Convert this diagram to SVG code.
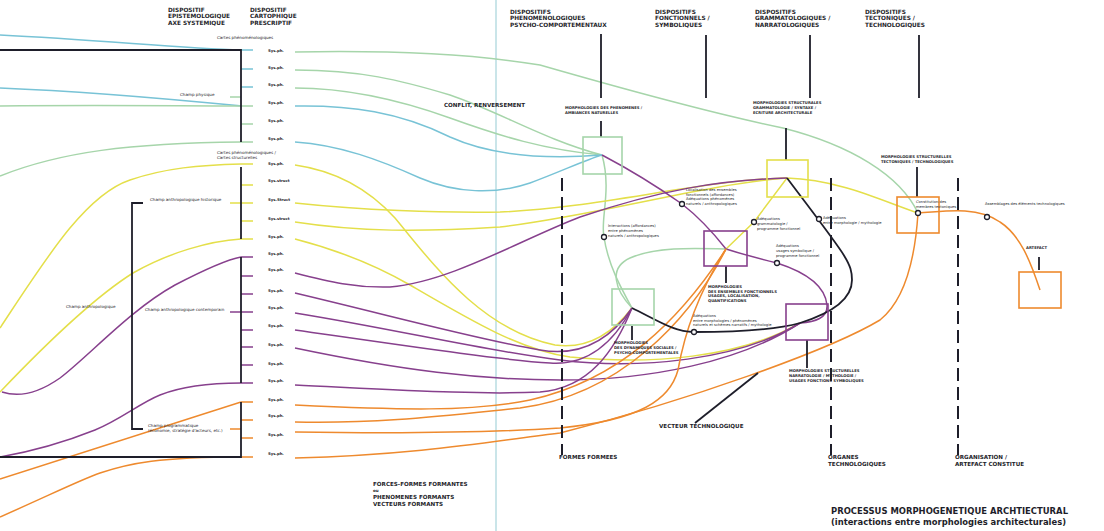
<svg xmlns="http://www.w3.org/2000/svg" width="1104" height="531" viewBox="0 0 1104 531">
<style>
.bk{fill:none;stroke:#1e1e2a;stroke-width:1.8}
.bl{fill:none;stroke:#78c3d6;stroke-width:1.5}
.gr{fill:none;stroke:#a6d5aa;stroke-width:1.5}
.ye{fill:none;stroke:#e4df4a;stroke-width:1.5}
.pu{fill:none;stroke:#87408d;stroke-width:1.5}
.or{fill:none;stroke:#ee8a2e;stroke-width:1.5}
.da{fill:none;stroke:#1e1e2a;stroke-width:2;stroke-dasharray:13 6}
.box{fill:none;stroke-width:1.6}
.dot{fill:#fff;stroke:#1e1e2a;stroke-width:1.3}
text{font-family:'DejaVu Sans','Liberation Sans',sans-serif;fill:#1e1e2a}
.h{font-size:5.8px;font-weight:bold}
.c{font-size:3.75px;font-weight:bold}
.s{font-size:3.7px}
.l{font-size:4.1px}
.r{font-size:3.8px;font-weight:bold}
.t{font-size:8.5px;font-weight:bold}
</style>
<rect width="1104" height="531" fill="#fff"/>
<line x1="496" y1="0" x2="496" y2="531" stroke="#b9dde2" stroke-width="1.5"/>

<g id="connectors">
  <!-- left side -->
  <path class="bl" d="M0,35 C100,40 180,48 241,50"/>
  <path class="bl" d="M0,88 C100,92 180,100 241,106"/>
  <path class="gr" d="M0,106 C100,105 180,106 241,106"/>
  <path class="gr" d="M0,176 C60,152 130,143 241,142"/>
  <path class="ye" d="M0,328 C45,260 85,195 130,180 C165,168 200,165 241,164"/>
  <path class="ye" d="M0,392 C40,350 90,300 133,273 C170,252 210,241 241,239"/>
  <path class="pu" d="M2,392 C20,398 40,392 60,378 C90,355 130,310 175,285 C200,272 225,260 241,257"/>
  <path class="pu" d="M0,457 C40,450 70,440 95,430 C120,420 140,403 160,395 C185,385 215,383 241,383"/>
  <path class="or" d="M0,479 L241,402"/>
  <path class="or" d="M0,517 C50,495 80,480 100,473 C130,463 160,457 241,457"/>

  <!-- ticks -->
  <path class="bl" d="M241,50H253M241,69H253M241,87H253"/>
  <path class="gr" d="M241,106H253M241,124H253M241,142H253M230,97H241"/>
  <path class="ye" d="M241,164H253M241,185H253M230,203H253M241,221H253M241,239H253"/>
  <path class="pu" d="M241,257H253M241,276H253M241,294H253M230,312H253M241,330H253M241,347H253M241,365H253M241,383H253"/>
  <path class="or" d="M241,402H253M241,420H253M230,429H241M241,438H253M241,457H253"/>

  <!-- black brackets -->
  <path class="bk" d="M0,50 H241 V142"/>
  <path class="bk" d="M241,167 V239"/>
  <path class="bk" d="M241,257 V383"/>
  <path class="bk" d="M241,402 V457 H0"/>
  <path class="bk" d="M143,203 H132 V429 H143"/>

  <!-- greens -->
  <path class="gr" d="M295,52 C400,50 480,55 540,65 C620,88 720,115 783,128 C850,145 900,175 918,213"/>
  <path class="gr" d="M295,70 C360,70 400,80 450,95 C500,112 545,140 602,155"/>
  <path class="gr" d="M295,88 C350,88 400,100 450,118 C500,136 545,150 602,155"/>
  <path class="gr" d="M602,155 C612,190 600,220 604,237 C608,265 622,290 632,308"/>
  <path class="gr" d="M632,308 C615,290 608,268 630,258 C655,247 690,248 726,249"/>
  <!-- blues -->
  <path class="bl" d="M295,106 C350,105 400,112 450,137 C490,155 540,160 602,155"/>
  <path class="bl" d="M295,142 C340,145 380,160 420,178 C455,193 495,195 530,183 C560,172 585,160 602,155"/>
  <!-- yellows -->
  <path class="ye" d="M295,165 C330,170 365,185 395,218 C430,260 480,330 555,345 C590,350 615,330 632,308"/>
  <path class="ye" d="M295,203 C360,210 440,213 500,212 C600,208 700,180 787,178 C840,180 880,200 918,213"/>
  <path class="ye" d="M295,222 C360,232 420,232 500,227 C600,215 700,185 787,178"/>
  <path class="ye" d="M295,239 C330,248 370,262 410,285 C470,320 520,350 570,357 C650,365 740,358 800,323"/>
  <path class="ye" d="M787,178 L754,222 L726,249"/>
  <!-- purples -->
  <path class="pu" d="M295,273 C330,282 355,288 390,287 C450,282 520,240 580,217 C660,190 720,180 787,178"/>
  <path class="pu" d="M602,155 C640,175 665,192 682,204 C700,218 715,235 726,249 C745,255 765,260 777,263 C805,272 825,285 827,305 C828,318 815,322 800,323"/>
  <path class="pu" d="M295,293 C400,318 480,340 540,350 C580,357 610,340 632,308"/>
  <path class="pu" d="M295,313 C400,330 480,350 560,360 C640,370 740,360 800,323"/>
  <path class="pu" d="M295,330 C400,345 500,360 550,363 C590,366 615,340 632,308"/>
  <path class="pu" d="M295,348 C400,370 480,380 560,380 C650,380 740,362 800,323"/>
  <path class="pu" d="M295,385 C400,390 480,395 540,392 C590,388 615,350 632,308"/>
  <!-- oranges -->
  <path class="or" d="M295,405 C400,410 470,412 530,400 C620,380 680,320 726,249"/>
  <path class="or" d="M295,422 C380,424 450,415 520,408 C620,395 690,320 726,249"/>
  <path class="or" d="M295,432 C420,434 500,432 560,428 C640,420 670,400 678,370 C685,330 700,290 726,249"/>
  <path class="or" d="M295,458 C420,455 500,440 560,433 C690,400 830,350 880,320 C905,300 915,260 918,213"/>
  <path class="or" d="M918,213 C935,212 950,210 965,211 C980,212 990,215 1000,222 C1020,235 1030,260 1040,290"/>
  <!-- black -->
  <path class="bk" d="M632,308 C660,322 675,332 694,332 C740,332 775,330 800,323 C835,312 852,298 852,280 C852,262 845,255 787,178"/>
  <path class="bk" d="M695,423 L758,373"/>
  <!-- header lines -->
  <path class="bk" d="M601,34V98M706,35V98M810,35V98M919,35V98"/>
  <path class="bk" d="M601,121V137M786,128V160M917,167V197M1039,257V270M726,266V283M632,326V340M807,340V368" stroke-width="1.5"/>
  <!-- dashed -->
  <path class="da" d="M562,178V455M831,178V455M958,178V455"/>
</g>

<g id="box-phenomenes"><rect class="box" stroke="#a6d5aa" x="583" y="137" width="39" height="37"/></g>
<g id="box-dynamiques"><rect class="box" stroke="#a6d5aa" x="612" y="289" width="42" height="36"/></g>
<g id="box-grammatologie"><rect class="box" stroke="#e4df4a" x="767" y="160" width="41" height="37"/></g>
<g id="box-fonctionnels"><rect class="box" stroke="#87408d" x="704" y="231" width="43" height="35"/></g>
<g id="box-narratologie"><rect class="box" stroke="#87408d" x="786" y="304" width="42" height="36"/></g>
<g id="box-tectoniques"><rect class="box" stroke="#ee8a2e" x="897" y="197" width="42" height="36"/></g>
<g id="box-artefact"><rect class="box" stroke="#ee8a2e" x="1019" y="272" width="42" height="36"/></g>

<g id="points">
  <circle class="dot" cx="604" cy="237" r="2.5"/>
  <circle class="dot" cx="682" cy="204" r="2.5"/>
  <circle class="dot" cx="754" cy="222" r="2.5"/>
  <circle class="dot" cx="777" cy="263" r="2.5"/>
  <circle class="dot" cx="819" cy="219" r="2.5"/>
  <circle class="dot" cx="694" cy="332" r="2.5"/>
  <circle class="dot" cx="918" cy="213" r="2.5"/>
  <circle class="dot" cx="987" cy="217" r="2.5"/>
</g>

<g id="headers">
  <text class="h" x="168" y="12">DISPOSITIF<tspan x="168" y="18.3">EPISTEMOLOGIQUE</tspan><tspan x="168" y="24.8">AXE SYSTEMIQUE</tspan></text>
  <text class="h" x="250" y="12">DISPOSITIF<tspan x="250" y="18.3">CARTOPHIQUE</tspan><tspan x="250" y="24.8">PRESCRIPTIF</tspan></text>
  <text class="h" x="510" y="13.8">DISPOSITIFS<tspan x="510" y="20.4">PHENOMENOLOGIQUES</tspan><tspan x="510" y="27.1">PSYCHO-COMPORTEMENTAUX</tspan></text>
  <text class="h" x="655" y="13.8">DISPOSITIFS<tspan x="655" y="20.4">FONCTIONNELS /</tspan><tspan x="655" y="27.1">SYMBOLIQUES</tspan></text>
  <text class="h" x="755" y="13.8">DISPOSITIFS<tspan x="755" y="20.4">GRAMMATOLOGIQUES /</tspan><tspan x="755" y="27.1">NARRATOLOGIQUES</tspan></text>
  <text class="h" x="865" y="13.8">DISPOSITIFS<tspan x="865" y="20.4">TECTONIQUES /</tspan><tspan x="865" y="27.1">TECHNOLOGIQUES</tspan></text>
</g>

<g id="left-labels">
  <text class="l" x="217" y="39.3">Cartes phénoménologiques</text>
  <text class="l" x="180" y="96.3">Champ physique</text>
  <text class="l" x="217" y="154">Cartes phénoménologiques /<tspan x="217" y="159">Cartes structurelles</tspan></text>
  <text class="l" x="150" y="201">Champ anthropologique historique</text>
  <text class="l" x="66" y="308.3">Champ anthropologique</text>
  <text class="l" x="145" y="311.3">Champ anthropologique contemporain</text>
  <text class="l" x="148" y="427.3">Champ programmatique<tspan x="148" y="432.3">(économie, stratégie d'acteurs, etc.)</tspan></text>
</g>

<g id="rows">
  <text class="r" x="268" y="52">Sys.ph.</text>
  <text class="r" x="268" y="68.7">Sys.ph.</text>
  <text class="r" x="268" y="85.7">Sys.ph.</text>
  <text class="r" x="268" y="103.7">Sys.ph.</text>
  <text class="r" x="268" y="122">Sys.ph.</text>
  <text class="r" x="268" y="139.7">Sys.ph.</text>
  <text class="r" x="268" y="165.4">Sys.ph.</text>
  <text class="r" x="268" y="182">Sys.struct</text>
  <text class="r" x="268" y="201.4">Sys.Struct</text>
  <text class="r" x="268" y="220">Sys.struct</text>
  <text class="r" x="268" y="238">Sys.ph.</text>
  <text class="r" x="268" y="255.4">Sys.ph.</text>
  <text class="r" x="268" y="271.4">Sys.ph.</text>
  <text class="r" x="268" y="291.7">Sys.ph.</text>
  <text class="r" x="268" y="309">Sys.ph.</text>
  <text class="r" x="268" y="327.4">Sys.ph.</text>
  <text class="r" x="268" y="345.7">Sys.ph.</text>
  <text class="r" x="268" y="364.7">Sys.ph.</text>
  <text class="r" x="268" y="382.4">Sys.ph.</text>
  <text class="r" x="268" y="400.7">Sys.ph.</text>
  <text class="r" x="268" y="417.4">Sys.ph.</text>
  <text class="r" x="268" y="436.4">Sys.ph.</text>
  <text class="r" x="268" y="454.7">Sys.ph.</text>
</g>

<g id="morphology-labels">
  <text class="c" x="565" y="109.4">MORPHOLOGIES DES PHENOMENES /<tspan x="565" y="114.4">AMBIANCES NATURELLES</tspan></text>
  <text class="c" x="753" y="104.4">MORPHOLOGIES STRUCTURALES<tspan x="753" y="109.4">GRAMMATOLOGIE / SYNTAXE /</tspan><tspan x="753" y="114.4">ECRITURE ARCHITECTURALE</tspan></text>
  <text class="c" x="881" y="158.4">MORPHOLOGIES STRUCTURELLES<tspan x="881" y="162.9">TECTONIQUES / TECHNOLOGIQUES</tspan></text>
  <text class="c" x="1026" y="249.4">ARTEFACT</text>
  <text class="c" x="708" y="288.4">MORPHOLOGIES<tspan x="708" y="292.9">DES ENSEMBLES FONCTIONNELS</tspan><tspan x="708" y="297.4">USAGES, LOCALISATION,</tspan><tspan x="708" y="301.9">QUANTIFICATIONS</tspan></text>
  <text class="c" x="614" y="344.4">MORPHOLOGIES<tspan x="614" y="349.4">DES DYNAMIQUES SOCIALES /</tspan><tspan x="614" y="353.9">PSYCHO-COMPORTEMENTALES</tspan></text>
  <text class="c" x="789" y="372.4">MORPHOLOGIES STRUCTURELLES<tspan x="789" y="377.4">NARRATOLOGIE / MYTHOLOGIE /</tspan><tspan x="789" y="381.9">USAGES FONCTIONS SYMBOLIQUES</tspan></text>
</g>

<g id="interaction-labels">
  <text class="s" x="608" y="227">Interactions (affordances)<tspan x="608" y="232">entre phénomènes</tspan><tspan x="608" y="237">naturels / anthropologiques</tspan></text>
  <text class="s" x="686" y="191">Localisation des ensembles<tspan x="686" y="195.5">fonctionnels (affordances)</tspan><tspan x="686" y="200">Adéquations phénoménes</tspan><tspan x="686" y="204.5">naturels / anthropologiques</tspan></text>
  <text class="s" x="757" y="220">Adéquations<tspan x="757" y="225">grammatologie /</tspan><tspan x="757" y="229.5">programme fonctionnel</tspan></text>
  <text class="s" x="776" y="247">Adéquations<tspan x="776" y="252">usages symbolique /</tspan><tspan x="776" y="257">programme fonctionnel</tspan></text>
  <text class="s" x="823" y="219">Adéquations<tspan x="823" y="224">entre morphologie / mythologie</tspan></text>
  <text class="s" x="693" y="317">Adéquations<tspan x="693" y="321.5">entre morphologies / phénomènes</tspan><tspan x="693" y="326">naturels et schèmes narratifs / mythologie</tspan></text>
  <text class="s" x="916" y="203">Constitution des<tspan x="916" y="207.5">membres tectoniques</tspan></text>
  <text class="s" x="985" y="205">Assemblages des éléments technologiques</text>
</g>

<g id="bottom-labels">
  <text class="h" x="444" y="107" style="font-size:5.6px">CONFLIT, RENVERSEMENT</text>
  <text class="h" x="659" y="428" style="font-size:5.6px">VECTEUR TECHNOLOGIQUE</text>
  <text class="h" x="559" y="459" style="font-size:5.6px">FORMES FORMEES</text>
  <text class="h" x="828" y="459" style="font-size:5.6px">ORGANES<tspan x="828" y="466">TECHNOLOGIQUES</tspan></text>
  <text class="h" x="955" y="459" style="font-size:5.6px">ORGANISATION /<tspan x="955" y="466">ARTEFACT CONSTITUE</tspan></text>
  <text class="h" x="373" y="486" style="font-size:5.6px">FORCES-FORMES FORMANTES<tspan x="373" y="492" style="font-size:4px">ou</tspan><tspan x="373" y="499">PHENOMENES FORMANTS</tspan><tspan x="373" y="506">VECTEURS FORMANTS</tspan></text>
  <text class="t" x="831" y="514" textLength="237" lengthAdjust="spacingAndGlyphs">PROCESSUS MORPHOGENETIQUE ARCHTIECTURAL</text>
  <text class="t" x="831" y="525" style="font-size:8px" textLength="235" lengthAdjust="spacingAndGlyphs">(interactions entre morphologies architecturales)</text>
</g>
</svg>
